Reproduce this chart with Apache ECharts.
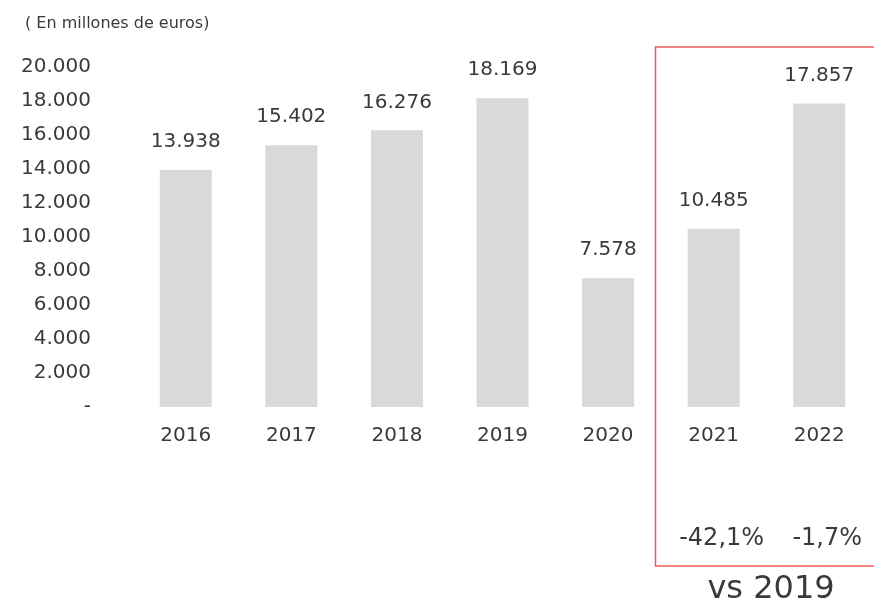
<!DOCTYPE html>
<html>
<head>
<meta charset="utf-8">
<script src="https://cdn.jsdelivr.net/npm/echarts@6/dist/echarts.min.js"></script>
<style>
html,body{margin:0;padding:0;background:#fff;}
#chart{width:874px;height:610px;}
</style>
</head>
<body>
<div id="chart"></div>
<script>
var categories = ['2016','2017','2018','2019','2020','2021','2022'];
var values = [13938, 15402, 16276, 18169, 7578, 10485, 17857];
var pctLabels = ['', '', '', '', '', '-42,1%', '-1,7%'];
var yTicks = [0, 2000, 4000, 6000, 8000, 10000, 12000, 14000, 16000, 18000, 20000];

function fmt(v) {
  if (v === 0) return '-';
  return String(v).replace(/\B(?=(\d{3})+(?!\d))/g, '.');
}

var FONT = 'DejaVu Sans';
var TXT = '#3a3a3a';

var chart = echarts.init(document.getElementById('chart'), null, {renderer: 'canvas'});
chart.setOption({
  animation: false,
  backgroundColor: '#ffffff',
  title: {
    text: '( En millones de euros)',
    left: 20, top: 11,
    textStyle: {fontFamily: FONT, fontSize: 16, fontWeight: 'normal', color: TXT}
  },
  grid: {left: 133, right: 2, top: 67, bottom: 203, containLabel: false},
  xAxis: [{
    type: 'category',
    data: categories,
    axisLine: {show: false},
    axisTick: {show: false},
    axisLabel: {fontFamily: FONT, fontSize: 20, color: TXT, margin: 19, interval: 0}
  }, {
    type: 'category',
    data: categories,
    position: 'bottom',
    axisLine: {show: false},
    axisTick: {show: false},
    axisLabel: {
      fontFamily: FONT, fontSize: 24, color: TXT, margin: 120, interval: 0,
      padding: [0, 0, 0, 16],
      formatter: function (v, i) { return pctLabels[i]; }
    }
  }],
  yAxis: {
    type: 'value',
    min: yTicks[0], max: yTicks[yTicks.length - 1], interval: 2000,
    axisLine: {show: false},
    axisTick: {show: false},
    splitLine: {show: false},
    axisLabel: {
      fontFamily: FONT, fontSize: 20, color: TXT, margin: 42,
      formatter: function (v) { return fmt(v); }
    }
  },
  series: [{
    type: 'bar',
    data: values,
    barWidth: 52,
    itemStyle: {color: '#d9d9d9'},
    label: {
      show: true, position: 'top', distance: 18,
      fontFamily: FONT, fontSize: 20, color: TXT,
      formatter: function (p) { return fmt(p.value); }
    }
  }],
  graphic: [{
    type: 'rect',
    shape: {x: 655.5, y: 47, width: 240, height: 519},
    style: {fill: 'none', stroke: '#f05a5a', lineWidth: 1.5},
    silent: true
  }, {
    type: 'text',
    x: 771, y: 590,
    style: {
      text: 'vs 2019', fontFamily: FONT, fontSize: 32, fill: TXT,
      align: 'center', verticalAlign: 'middle'
    }
  }]
});
</script>
</body>
</html>
